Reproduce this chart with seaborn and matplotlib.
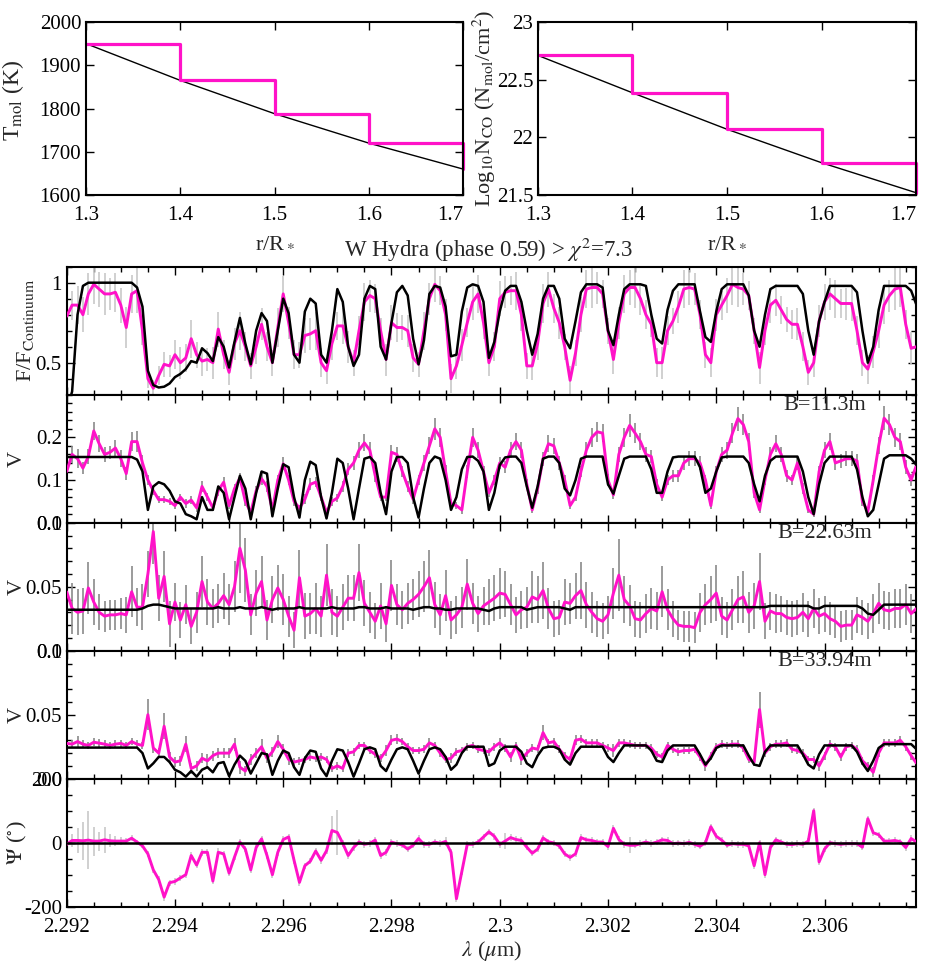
import numpy as np
import pandas as pd
import matplotlib
matplotlib.use('Agg')
import matplotlib.pyplot as plt
import seaborn as sns
from matplotlib.ticker import MultipleLocator

sns.set_style('ticks')
plt.rcParams['font.family'] = ['Liberation Serif', 'DejaVu Serif']
plt.rcParams['mathtext.fontset'] = 'stix'

# ---------------- top panels ----------------
radius = [1.3, 1.4, 1.5, 1.6, 1.7]
temp_model = [1950, 1865, 1788, 1720, 1660]
temp_shells = [1950, 1865, 1788, 1720]
ncol_model = [22.71, 22.386, 22.07, 21.78, 21.52]
ncol_shells = [22.71, 22.386, 22.07, 21.78]

# ---------------- spectra ----------------
lam = [2.2920, 2.2921, 2.2922, 2.2923, 2.2924, 2.2925, 2.2926, 2.2927, 2.2928, 2.2929,
       2.2930, 2.2931, 2.2932, 2.2933, 2.2934, 2.2935, 2.2936, 2.2937, 2.2938, 2.2939,
       2.2940, 2.2941, 2.2942, 2.2943, 2.2944, 2.2945, 2.2946, 2.2947, 2.2948, 2.2949,
       2.2950, 2.2951, 2.2952, 2.2953, 2.2954, 2.2955, 2.2956, 2.2957, 2.2958, 2.2959,
       2.2960, 2.2961, 2.2962, 2.2963, 2.2964, 2.2965, 2.2966, 2.2967, 2.2968, 2.2969,
       2.2970, 2.2971, 2.2972, 2.2973, 2.2974, 2.2975, 2.2976, 2.2977, 2.2978, 2.2979,
       2.2980, 2.2981, 2.2982, 2.2983, 2.2984, 2.2985, 2.2986, 2.2987, 2.2988, 2.2989,
       2.2990, 2.2991, 2.2992, 2.2993, 2.2994, 2.2995, 2.2996, 2.2997, 2.2998, 2.2999,
       2.3000, 2.3001, 2.3002, 2.3003, 2.3004, 2.3005, 2.3006, 2.3007, 2.3008, 2.3009,
       2.3010, 2.3011, 2.3012, 2.3013, 2.3014, 2.3015, 2.3016, 2.3017, 2.3018, 2.3019,
       2.3020, 2.3021, 2.3022, 2.3023, 2.3024, 2.3025, 2.3026, 2.3027, 2.3028, 2.3029,
       2.3030, 2.3031, 2.3032, 2.3033, 2.3034, 2.3035, 2.3036, 2.3037, 2.3038, 2.3039,
       2.3040, 2.3041, 2.3042, 2.3043, 2.3044, 2.3045, 2.3046, 2.3047, 2.3048, 2.3049,
       2.3050, 2.3051, 2.3052, 2.3053, 2.3054, 2.3055, 2.3056, 2.3057, 2.3058, 2.3059,
       2.3060, 2.3061, 2.3062, 2.3063, 2.3064, 2.3065, 2.3066, 2.3067, 2.3068, 2.3069,
       2.3070, 2.3071, 2.3072, 2.3073, 2.3074, 2.3075, 2.3076, 2.3077]

flux_obs = [0.79, 0.86, 0.86, 0.80, 0.93, 0.99, 0.96, 0.93, 0.93, 0.94,
            0.86, 0.72, 0.93, 0.95, 0.70, 0.40, 0.34, 0.42, 0.49, 0.48,
            0.55, 0.50, 0.53, 0.65, 0.55, 0.51, 0.52, 0.50, 0.71, 0.55,
            0.44, 0.62, 0.70, 0.60, 0.48, 0.60, 0.74, 0.60, 0.50, 0.72,
            0.93, 0.75, 0.55, 0.55, 0.67, 0.68, 0.70, 0.50, 0.45, 0.62,
            0.73, 0.73, 0.60, 0.50, 0.70, 0.88, 0.92, 0.90, 0.70, 0.52,
            0.75, 0.72, 0.72, 0.70, 0.53, 0.49, 0.70, 0.90, 0.99, 0.95,
            0.80, 0.40, 0.48, 0.61, 0.75, 0.88, 0.93, 0.75, 0.50, 0.60,
            0.90, 0.94, 0.95, 0.95, 0.80, 0.48, 0.48, 0.62, 0.87, 0.96,
            0.84, 0.75, 0.60, 0.39, 0.56, 0.80, 0.96, 0.97, 0.97, 0.93,
            0.70, 0.52, 0.75, 0.93, 0.97, 0.97, 0.90, 0.80, 0.74, 0.50,
            0.50, 0.70, 0.76, 0.85, 0.96, 0.97, 0.96, 0.80, 0.55, 0.50,
            0.80, 0.86, 0.92, 0.99, 0.97, 0.96, 0.92, 0.70, 0.47, 0.70,
            0.86, 0.89, 0.83, 0.77, 0.74, 0.74, 0.60, 0.44, 0.50, 0.76,
            0.88, 0.93, 0.90, 0.87, 0.87, 0.87, 0.70, 0.50, 0.46, 0.57,
            0.70, 0.86, 0.92, 0.96, 0.97, 0.74, 0.59, 0.60]
flux_mod = [0.20, 0.32, 0.80, 0.98, 1.00, 1.00, 1.00, 1.00, 1.00, 1.00,
            1.00, 1.00, 1.00, 0.97, 0.85, 0.45, 0.36, 0.345, 0.35, 0.37,
            0.41, 0.43, 0.46, 0.51, 0.50, 0.59, 0.56, 0.51, 0.66, 0.60,
            0.47, 0.63, 0.78, 0.62, 0.49, 0.70, 0.81, 0.76, 0.50, 0.70,
            0.90, 0.81, 0.55, 0.50, 0.82, 0.90, 0.87, 0.55, 0.50, 0.70,
            0.96, 0.88, 0.60, 0.48, 0.55, 0.90, 0.98, 0.96, 0.60, 0.52,
            0.75, 0.94, 0.98, 0.92, 0.65, 0.49, 0.64, 0.93, 0.98, 0.97,
            0.85, 0.54, 0.55, 0.82, 0.97, 0.99, 0.98, 0.88, 0.53, 0.63,
            0.82, 0.95, 0.98, 0.98, 0.88, 0.70, 0.55, 0.68, 0.90, 0.98,
            0.98, 0.90, 0.65, 0.59, 0.76, 0.94, 0.99, 0.99, 0.99, 0.97,
            0.70, 0.61, 0.80, 0.96, 0.99, 0.99, 0.99, 0.98, 0.80, 0.65,
            0.62, 0.83, 0.95, 0.99, 0.99, 0.99, 0.99, 0.82, 0.66, 0.63,
            0.82, 0.96, 0.99, 0.99, 0.99, 0.99, 0.92, 0.70, 0.60, 0.80,
            0.96, 0.98, 0.98, 0.98, 0.98, 0.98, 0.93, 0.70, 0.55, 0.76,
            0.88, 0.98, 0.98, 0.98, 0.98, 0.98, 0.94, 0.70, 0.50, 0.60,
            0.83, 0.98, 0.98, 0.98, 0.98, 0.98, 0.95, 0.86]
flux_err = [0.10, 0.09, 0.12, 0.11, 0.13, 0.12, 0.11, 0.13, 0.10, 0.12,
            0.11, 0.13, 0.12, 0.14, 0.09, 0.06, 0.05, 0.06, 0.08, 0.07,
            0.09, 0.10, 0.09, 0.12, 0.08, 0.09, 0.07, 0.10, 0.11, 0.09,
            0.08, 0.10, 0.12, 0.09, 0.08, 0.11, 0.10, 0.09, 0.08, 0.12,
            0.11, 0.10, 0.09, 0.08, 0.11, 0.10, 0.12, 0.09, 0.08, 0.10,
            0.09, 0.11, 0.10, 0.08, 0.09, 0.12, 0.10, 0.09, 0.08, 0.10,
            0.11, 0.09, 0.08, 0.10, 0.09, 0.08, 0.12, 0.10, 0.11, 0.09,
            0.10, 0.09, 0.08, 0.10, 0.09, 0.11, 0.12, 0.10, 0.08, 0.09,
            0.11, 0.10, 0.09, 0.12, 0.10, 0.08, 0.09, 0.10, 0.12, 0.11,
            0.09, 0.10, 0.08, 0.09, 0.08, 0.11, 0.12, 0.13, 0.10, 0.09,
            0.08, 0.09, 0.10, 0.12, 0.11, 0.13, 0.10, 0.09, 0.08, 0.09,
            0.10, 0.09, 0.08, 0.10, 0.12, 0.11, 0.10, 0.09, 0.08, 0.09,
            0.10, 0.09, 0.11, 0.13, 0.12, 0.10, 0.09, 0.08, 0.10, 0.09,
            0.11, 0.10, 0.09, 0.08, 0.09, 0.10, 0.09, 0.08, 0.09, 0.10,
            0.11, 0.10, 0.12, 0.09, 0.10, 0.11, 0.09, 0.08, 0.09, 0.10,
            0.11, 0.12, 0.10, 0.13, 0.12, 0.09, 0.10, 0.09]

vis1_obs = [0.120, 0.160, 0.150, 0.128, 0.155, 0.215, 0.185, 0.160, 0.165, 0.175,
            0.150, 0.115, 0.190, 0.190, 0.140, 0.100, 0.075, 0.054, 0.054, 0.050,
            0.040, 0.060, 0.045, 0.053, 0.035, 0.085, 0.060, 0.035, 0.075, 0.095,
            0.040, 0.080, 0.105, 0.050, 0.024, 0.075, 0.103, 0.085, 0.030, 0.100,
            0.138, 0.100, 0.050, 0.034, 0.055, 0.090, 0.095, 0.060, 0.024, 0.050,
            0.058, 0.085, 0.125, 0.140, 0.170, 0.187, 0.170, 0.110, 0.060, 0.060,
            0.165, 0.160, 0.120, 0.085, 0.055, 0.100, 0.140, 0.180, 0.220, 0.200,
            0.120, 0.045, 0.040, 0.030, 0.120, 0.200, 0.170, 0.120, 0.070, 0.100,
            0.140, 0.130, 0.170, 0.190, 0.170, 0.090, 0.030, 0.080, 0.150, 0.185,
            0.180, 0.140, 0.100, 0.040, 0.060, 0.120, 0.170, 0.200, 0.213, 0.210,
            0.100, 0.065, 0.160, 0.200, 0.228, 0.210, 0.190, 0.160, 0.155, 0.090,
            0.060, 0.100, 0.110, 0.110, 0.140, 0.150, 0.150, 0.140, 0.100, 0.040,
            0.120, 0.160, 0.170, 0.210, 0.244, 0.230, 0.190, 0.070, 0.030, 0.100,
            0.160, 0.185, 0.160, 0.110, 0.100, 0.140, 0.080, 0.030, 0.020, 0.120,
            0.170, 0.190, 0.140, 0.145, 0.150, 0.150, 0.145, 0.050, 0.026, 0.100,
            0.180, 0.245, 0.230, 0.200, 0.190, 0.130, 0.100, 0.135]
vis1_mod = [0.154, 0.154, 0.154, 0.154, 0.154, 0.154, 0.154, 0.154, 0.154, 0.154,
            0.154, 0.154, 0.154, 0.148, 0.120, 0.030, 0.085, 0.095, 0.090, 0.075,
            0.050, 0.045, 0.020, 0.015, 0.008, 0.060, 0.030, 0.030, 0.085, 0.070,
            0.008, 0.060, 0.110, 0.080, 0.008, 0.070, 0.120, 0.115, 0.015, 0.080,
            0.137, 0.130, 0.060, 0.012, 0.100, 0.143, 0.135, 0.060, 0.010, 0.070,
            0.150, 0.140, 0.080, 0.008, 0.080, 0.150, 0.154, 0.140, 0.070, 0.020,
            0.120, 0.154, 0.154, 0.140, 0.060, 0.012, 0.080, 0.140, 0.155, 0.150,
            0.100, 0.030, 0.060, 0.125, 0.154, 0.155, 0.145, 0.120, 0.030, 0.070,
            0.135, 0.153, 0.155, 0.155, 0.140, 0.085, 0.035, 0.085, 0.150, 0.155,
            0.155, 0.140, 0.080, 0.064, 0.100, 0.150, 0.155, 0.155, 0.155, 0.155,
            0.090, 0.068, 0.110, 0.150, 0.155, 0.155, 0.155, 0.155, 0.125, 0.070,
            0.070, 0.120, 0.153, 0.155, 0.155, 0.155, 0.155, 0.130, 0.070, 0.080,
            0.120, 0.153, 0.155, 0.155, 0.155, 0.155, 0.140, 0.090, 0.050, 0.110,
            0.145, 0.155, 0.155, 0.155, 0.155, 0.155, 0.120, 0.060, 0.020, 0.090,
            0.140, 0.155, 0.155, 0.155, 0.155, 0.155, 0.125, 0.060, 0.015, 0.030,
            0.090, 0.150, 0.158, 0.158, 0.158, 0.158, 0.150, 0.135]
vis1_err = [0.015, 0.020, 0.022, 0.015, 0.018, 0.022, 0.020, 0.018, 0.015, 0.018,
            0.020, 0.016, 0.022, 0.025, 0.018, 0.012, 0.010, 0.008, 0.008, 0.008,
            0.009, 0.008, 0.010, 0.009, 0.010, 0.012, 0.010, 0.008, 0.012, 0.012,
            0.008, 0.010, 0.012, 0.010, 0.008, 0.010, 0.014, 0.012, 0.008, 0.012,
            0.015, 0.012, 0.010, 0.008, 0.012, 0.014, 0.012, 0.010, 0.008, 0.010,
            0.010, 0.012, 0.014, 0.016, 0.018, 0.020, 0.018, 0.014, 0.010, 0.010,
            0.016, 0.018, 0.014, 0.012, 0.010, 0.012, 0.018, 0.020, 0.025, 0.022,
            0.016, 0.010, 0.008, 0.010, 0.015, 0.022, 0.018, 0.014, 0.010, 0.012,
            0.015, 0.014, 0.018, 0.020, 0.018, 0.012, 0.008, 0.012, 0.016, 0.020,
            0.018, 0.016, 0.012, 0.008, 0.010, 0.014, 0.018, 0.022, 0.024, 0.022,
            0.014, 0.010, 0.018, 0.022, 0.026, 0.024, 0.020, 0.018, 0.016, 0.012,
            0.010, 0.012, 0.014, 0.014, 0.016, 0.018, 0.018, 0.016, 0.012, 0.008,
            0.014, 0.018, 0.020, 0.024, 0.028, 0.025, 0.020, 0.012, 0.008, 0.012,
            0.018, 0.020, 0.018, 0.014, 0.012, 0.016, 0.012, 0.008, 0.006, 0.014,
            0.018, 0.020, 0.016, 0.016, 0.018, 0.018, 0.016, 0.010, 0.006, 0.012,
            0.020, 0.028, 0.025, 0.022, 0.020, 0.016, 0.014, 0.015]

vis2_obs = [0.046, 0.033, 0.030, 0.031, 0.049, 0.038, 0.030, 0.027, 0.028, 0.028,
            0.029, 0.028, 0.046, 0.034, 0.034, 0.060, 0.093, 0.041, 0.058, 0.021,
            0.038, 0.024, 0.036, 0.019, 0.030, 0.054, 0.038, 0.033, 0.037, 0.043,
            0.036, 0.050, 0.080, 0.063, 0.028, 0.045, 0.054, 0.024, 0.040, 0.049,
            0.040, 0.027, 0.016, 0.057, 0.027, 0.029, 0.033, 0.027, 0.059, 0.030,
            0.027, 0.034, 0.041, 0.041, 0.061, 0.037, 0.030, 0.023, 0.035, 0.021,
            0.051, 0.036, 0.032, 0.037, 0.040, 0.044, 0.050, 0.057, 0.036, 0.028,
            0.043, 0.024, 0.028, 0.034, 0.052, 0.037, 0.029, 0.035, 0.038, 0.041,
            0.045, 0.044, 0.036, 0.028, 0.032, 0.034, 0.042, 0.040, 0.047, 0.033,
            0.025, 0.026, 0.038, 0.037, 0.043, 0.047, 0.036, 0.030, 0.025, 0.023,
            0.028, 0.045, 0.059, 0.040, 0.035, 0.025, 0.024, 0.029, 0.033, 0.031,
            0.046, 0.032, 0.025, 0.020, 0.019, 0.019, 0.018, 0.030, 0.036, 0.040,
            0.045, 0.027, 0.024, 0.032, 0.040, 0.042, 0.030, 0.035, 0.054, 0.023,
            0.031, 0.029, 0.029, 0.026, 0.025, 0.026, 0.030, 0.025, 0.033, 0.027,
            0.029, 0.025, 0.023, 0.019, 0.020, 0.020, 0.028, 0.026, 0.023, 0.029,
            0.037, 0.032, 0.031, 0.033, 0.033, 0.036, 0.029, 0.033]
vis2_mod = [0.032, 0.032, 0.032, 0.032, 0.032, 0.032, 0.032, 0.032, 0.032, 0.032,
            0.032, 0.032, 0.032, 0.032, 0.033, 0.035, 0.036, 0.036, 0.035, 0.034,
            0.033, 0.033, 0.033, 0.033, 0.033, 0.033, 0.033, 0.033, 0.034, 0.033,
            0.033, 0.033, 0.034, 0.033, 0.033, 0.033, 0.034, 0.033, 0.032, 0.033,
            0.033, 0.033, 0.033, 0.034, 0.033, 0.033, 0.033, 0.033, 0.033, 0.034,
            0.033, 0.033, 0.033, 0.033, 0.034, 0.034, 0.033, 0.033, 0.033, 0.034,
            0.033, 0.033, 0.033, 0.033, 0.032, 0.033, 0.034, 0.034, 0.033, 0.033,
            0.032, 0.032, 0.033, 0.033, 0.033, 0.033, 0.033, 0.032, 0.031, 0.033,
            0.034, 0.034, 0.034, 0.034, 0.034, 0.032, 0.033, 0.034, 0.034, 0.034,
            0.034, 0.034, 0.033, 0.032, 0.034, 0.034, 0.034, 0.034, 0.034, 0.034,
            0.034, 0.034, 0.034, 0.034, 0.034, 0.034, 0.034, 0.034, 0.034, 0.034,
            0.034, 0.034, 0.034, 0.034, 0.034, 0.034, 0.034, 0.034, 0.034, 0.034,
            0.034, 0.034, 0.034, 0.034, 0.034, 0.034, 0.034, 0.034, 0.034, 0.034,
            0.035, 0.035, 0.035, 0.035, 0.035, 0.035, 0.035, 0.035, 0.033, 0.033,
            0.035, 0.035, 0.035, 0.035, 0.035, 0.035, 0.035, 0.033, 0.029, 0.028,
            0.032, 0.036, 0.036, 0.036, 0.036, 0.036, 0.036, 0.036]
vis2_err = [0.015, 0.020, 0.018, 0.018, 0.020, 0.018, 0.014, 0.012, 0.012, 0.012,
            0.012, 0.014, 0.020, 0.015, 0.018, 0.018, 0.025, 0.018, 0.020, 0.018,
            0.015, 0.014, 0.015, 0.014, 0.016, 0.020, 0.018, 0.015, 0.015, 0.018,
            0.016, 0.020, 0.035, 0.025, 0.016, 0.018, 0.020, 0.016, 0.018, 0.018,
            0.020, 0.016, 0.014, 0.022, 0.018, 0.016, 0.020, 0.016, 0.024, 0.018,
            0.016, 0.018, 0.018, 0.018, 0.022, 0.018, 0.016, 0.014, 0.018, 0.014,
            0.020, 0.016, 0.015, 0.016, 0.016, 0.018, 0.020, 0.022, 0.018, 0.016,
            0.020, 0.015, 0.015, 0.016, 0.020, 0.016, 0.014, 0.015, 0.018, 0.018,
            0.020, 0.018, 0.016, 0.014, 0.015, 0.016, 0.020, 0.018, 0.022, 0.016,
            0.014, 0.014, 0.018, 0.016, 0.018, 0.022, 0.018, 0.016, 0.014, 0.014,
            0.015, 0.020, 0.028, 0.018, 0.016, 0.014, 0.014, 0.015, 0.016, 0.015,
            0.020, 0.016, 0.014, 0.012, 0.012, 0.012, 0.012, 0.015, 0.016, 0.018,
            0.022, 0.015, 0.014, 0.016, 0.018, 0.020, 0.016, 0.018, 0.022, 0.014,
            0.015, 0.015, 0.014, 0.014, 0.014, 0.014, 0.015, 0.014, 0.015, 0.014,
            0.014, 0.013, 0.013, 0.012, 0.012, 0.012, 0.014, 0.014, 0.014, 0.015,
            0.016, 0.015, 0.015, 0.015, 0.015, 0.016, 0.015, 0.015]

vis3_obs = [0.0276, 0.0270, 0.0290, 0.0270, 0.0260, 0.0285, 0.0278, 0.0270, 0.0260, 0.0270,
            0.0276, 0.0260, 0.0290, 0.0270, 0.0260, 0.0500, 0.0240, 0.0200, 0.0410, 0.0170,
            0.0130, 0.0140, 0.0270, 0.0080, 0.0100, 0.0160, 0.0140, 0.0180, 0.0200, 0.0200,
            0.0200, 0.0270, 0.0090, 0.0060, 0.0150, 0.0200, 0.0250, 0.0160, 0.0210, 0.0290,
            0.0230, 0.0150, 0.0130, 0.0140, 0.0150, 0.0170, 0.0160, 0.0170, 0.0150, 0.0080,
            0.0100, 0.0080, 0.0200, 0.0210, 0.0260, 0.0260, 0.0220, 0.0190, 0.0160, 0.0220,
            0.0300, 0.0310, 0.0290, 0.0250, 0.0220, 0.0220, 0.0230, 0.0280, 0.0260, 0.0200,
            0.0150, 0.0160, 0.0210, 0.0220, 0.0250, 0.0260, 0.0230, 0.0220, 0.0210, 0.0250,
            0.0280, 0.0240, 0.0170, 0.0260, 0.0150, 0.0200, 0.0240, 0.0230, 0.0360, 0.0280,
            0.0290, 0.0230, 0.0180, 0.0150, 0.0300, 0.0310, 0.0280, 0.0280, 0.0280, 0.0260,
            0.0240, 0.0220, 0.0280, 0.0280, 0.0270, 0.0260, 0.0260, 0.0260, 0.0240, 0.0190,
            0.0170, 0.0260, 0.0230, 0.0210, 0.0220, 0.0220, 0.0230, 0.0170, 0.0100, 0.0180,
            0.0250, 0.0270, 0.0260, 0.0270, 0.0270, 0.0240, 0.0150, 0.0130, 0.0540, 0.0200,
            0.0250, 0.0270, 0.0270, 0.0280, 0.0230, 0.0220, 0.0200, 0.0150, 0.0150, 0.0100,
            0.0180, 0.0270, 0.0250, 0.0170, 0.0250, 0.0260, 0.0230, 0.0140, 0.0100, 0.0050,
            0.0200, 0.0280, 0.0280, 0.0280, 0.0300, 0.0250, 0.0180, 0.0120]
vis3_mod = [0.0243, 0.0243, 0.0243, 0.0243, 0.0243, 0.0243, 0.0243, 0.0243, 0.0243, 0.0243,
            0.0243, 0.0243, 0.0243, 0.0243, 0.0200, 0.0080, 0.0120, 0.0170, 0.0170, 0.0130,
            0.0070, 0.0050, 0.0016, 0.0060, 0.0016, 0.0070, 0.0090, 0.0050, 0.0120, 0.0130,
            0.0020, 0.0110, 0.0180, 0.0140, 0.0040, 0.0120, 0.0200, 0.0190, 0.0030, 0.0140,
            0.0220, 0.0200, 0.0090, 0.0030, 0.0160, 0.0220, 0.0210, 0.0080, 0.0020, 0.0140,
            0.0230, 0.0220, 0.0130, 0.0016, 0.0120, 0.0230, 0.0245, 0.0230, 0.0100, 0.0060,
            0.0150, 0.0230, 0.0245, 0.0230, 0.0140, 0.0040, 0.0140, 0.0230, 0.0245, 0.0230,
            0.0170, 0.0070, 0.0110, 0.0200, 0.0250, 0.0250, 0.0250, 0.0250, 0.0100, 0.0120,
            0.0220, 0.0250, 0.0250, 0.0250, 0.0210, 0.0120, 0.0090, 0.0180, 0.0240, 0.0250,
            0.0250, 0.0230, 0.0150, 0.0110, 0.0200, 0.0250, 0.0250, 0.0250, 0.0250, 0.0250,
            0.0170, 0.0130, 0.0200, 0.0260, 0.0260, 0.0260, 0.0260, 0.0260, 0.0220, 0.0140,
            0.0130, 0.0220, 0.0260, 0.0260, 0.0260, 0.0260, 0.0260, 0.0190, 0.0110, 0.0160,
            0.0240, 0.0260, 0.0260, 0.0260, 0.0260, 0.0260, 0.0180, 0.0110, 0.0100, 0.0210,
            0.0260, 0.0260, 0.0260, 0.0260, 0.0260, 0.0260, 0.0190, 0.0110, 0.0080, 0.0190,
            0.0260, 0.0260, 0.0260, 0.0260, 0.0260, 0.0260, 0.0210, 0.0120, 0.0060, 0.0140,
            0.0240, 0.0270, 0.0270, 0.0270, 0.0270, 0.0270, 0.0270, 0.0230]
vis3_err = [0.003, 0.003, 0.004, 0.003, 0.003, 0.003, 0.003, 0.003, 0.003, 0.003,
            0.003, 0.003, 0.003, 0.003, 0.003, 0.012, 0.004, 0.004, 0.010, 0.004,
            0.004, 0.004, 0.006, 0.004, 0.004, 0.004, 0.005, 0.004, 0.004, 0.004,
            0.004, 0.005, 0.005, 0.004, 0.004, 0.004, 0.006, 0.004, 0.004, 0.005,
            0.004, 0.004, 0.003, 0.003, 0.003, 0.003, 0.003, 0.003, 0.003, 0.003,
            0.003, 0.003, 0.003, 0.003, 0.003, 0.003, 0.003, 0.003, 0.003, 0.004,
            0.004, 0.004, 0.003, 0.003, 0.003, 0.003, 0.003, 0.004, 0.003, 0.003,
            0.003, 0.004, 0.003, 0.003, 0.003, 0.003, 0.003, 0.003, 0.003, 0.003,
            0.004, 0.003, 0.004, 0.003, 0.004, 0.003, 0.003, 0.003, 0.006, 0.003,
            0.003, 0.003, 0.003, 0.003, 0.004, 0.003, 0.003, 0.003, 0.003, 0.003,
            0.003, 0.005, 0.003, 0.003, 0.003, 0.003, 0.003, 0.003, 0.003, 0.003,
            0.003, 0.003, 0.003, 0.003, 0.003, 0.003, 0.003, 0.003, 0.004, 0.003,
            0.003, 0.003, 0.003, 0.003, 0.003, 0.003, 0.003, 0.003, 0.014, 0.003,
            0.003, 0.003, 0.003, 0.003, 0.003, 0.003, 0.003, 0.003, 0.003, 0.004,
            0.003, 0.003, 0.003, 0.003, 0.003, 0.003, 0.003, 0.003, 0.003, 0.004,
            0.003, 0.003, 0.003, 0.003, 0.003, 0.003, 0.003, 0.003]

psi_obs = [-5, 7, 7, 6, 8, 5, 5, 9, 6, 5,
           5, 5, 14, 2, -10, -35, -85, -115, -170, -125,
           -121, -110, -100, -40, -70, -30, -30, -120, -30, -35,
           -95, -45, 2, -20, -85, -15, 12, -40, -100, -30,
           10, 18, -55, -124, -72, -58, -26, -55, -25, 38,
           32, -2, -40, -15, 2, -5, -2, 8, -40, -30,
           2, -3, -7, -20, -8, 13, -5, -5, 2, -2,
           4, -30, -175, -90, -5, -5, 2, 18, 34, 20,
           -5, 5, 16, 10, 7, -14, -33, -20, 15, 3,
           -1, -10, -35, -46, -35, 16, 9, 7, 2, 2,
           -12, 45, 10, -5, -8, -8, -3, 2, -3, 2,
           9, 7, -3, -1, -3, 1, -5, -11, 0, 50,
           20, 8, -8, -3, -5, -5, -10, -72, 0, -100,
           -15, 9, 2, -5, -6, -3, -5, 5, 100, -60,
           -20, 0, -3, -5, -3, -3, -3, -14, 75, 31,
           25, 5, 5, 7, 3, -15, 13, 2]
psi_mod = [0.0] * len(lam)
psi_err = [10, 20, 40, 60, 90, 45, 30, 40, 20, 15,
           12, 10, 10, 8, 8, 10, 10, 10, 12, 10,
           10, 10, 10, 10, 10, 10, 10, 10, 12, 10,
           10, 10, 10, 10, 10, 10, 10, 10, 10, 10,
           10, 10, 10, 12, 10, 10, 10, 10, 10, 45,
           70, 10, 10, 10, 10, 10, 10, 10, 10, 10,
           10, 10, 10, 10, 10, 10, 10, 10, 10, 12,
           15, 10, 10, 10, 10, 10, 10, 10, 10, 10,
           10, 25, 10, 10, 10, 10, 10, 10, 10, 10,
           10, 10, 10, 10, 10, 10, 10, 10, 10, 10,
           10, 10, 10, 10, 25, 10, 10, 10, 10, 10,
           10, 10, 10, 10, 10, 10, 10, 10, 10, 10,
           10, 10, 10, 10, 10, 10, 10, 10, 10, 10,
           10, 10, 10, 10, 10, 10, 10, 10, 10, 10,
           10, 10, 10, 10, 10, 10, 10, 10, 10, 10,
           10, 10, 10, 10, 10, 10, 10, 10]

baselines = ['B=11.3m', 'B=22.63m', 'B=33.94m']
xtick_vals = [2.292, 2.294, 2.296, 2.298, 2.300, 2.302, 2.304, 2.306]
xtick_text = ['2.292', '2.294', '2.296', '2.298', '2.3', '2.302', '2.304', '2.306']
rtick_text = ['1.3', '1.4', '1.5', '1.6', '1.7']

PINK = '#ff12c8'
FS = 15        # tick labels
FL = 16        # axis labels / annotations

W, H = 925.0, 964.0
fig = plt.figure(figsize=(9.25, 9.64), dpi=100)


def box(x0, y0, x1, y1):
    return [x0 / W, 1 - y1 / H, (x1 - x0) / W, (y1 - y0) / H]


def style(ax):
    for s in ax.spines.values():
        s.set_linewidth(1.5)
        s.set_color('black')
    ax.tick_params(which='both', direction='in', top=True, right=True,
                   width=1.0, colors='black', labelsize=FS)
    ax.tick_params(which='major', length=6)
    ax.tick_params(which='minor', length=3.5)


def shell_steps(r, s, m):
    xs, ys = [], []
    for i in range(len(s)):
        xs += [r[i], r[i + 1]]
        ys += [s[i], s[i]]
    xs.append(r[-1]); ys.append(m[-1])
    return xs, ys


def radius_axis(ax):
    ax.set_xlim(1.3, 1.7)
    ax.set_xticks(radius)
    labs = ax.set_xticklabels(rtick_text)
    labs[-1].set_horizontalalignment('right')
    labs[-1].set_x(1.703)


# ---- top-left: temperature ----
ax_t = fig.add_axes(box(86, 22, 463, 195))
xs, ys = shell_steps(radius, temp_shells, temp_model)
sns.lineplot(x=radius, y=temp_model, ax=ax_t, color='black', lw=1.0, sort=False, estimator=None)
sns.lineplot(x=xs, y=ys, ax=ax_t, color=PINK, lw=2.3, sort=False, estimator=None, clip_on=False)
radius_axis(ax_t)
ax_t.set_ylim(1600, 2000)
ax_t.set_yticks([1600, 1700, 1800, 1900, 2000])
style(ax_t)
ax_t.tick_params(axis='x', pad=8)
ax_t.set_xlabel(r'r/R$_*$', fontsize=FL)
ax_t.xaxis.set_label_coords(0.5, -0.22)
ax_t.set_ylabel(r'T$_{\rm mol}$ (K)', fontsize=FL + 1)
ax_t.yaxis.set_label_coords(-0.16, 0.55)

# ---- top-right: column density ----
ax_n = fig.add_axes(box(538, 22, 916, 195))
xs, ys = shell_steps(radius, ncol_shells, ncol_model)
sns.lineplot(x=radius, y=ncol_model, ax=ax_n, color='black', lw=1.0, sort=False, estimator=None)
sns.lineplot(x=xs, y=ys, ax=ax_n, color=PINK, lw=2.3, sort=False, estimator=None, clip_on=False)
radius_axis(ax_n)
ax_n.set_ylim(21.5, 23)
ax_n.set_yticks([21.5, 22, 22.5, 23])
ax_n.set_yticklabels(['21.5', '22', '22.5', '23'])
style(ax_n)
ax_n.tick_params(axis='x', pad=8)
ax_n.set_xlabel(r'r/R$_*$', fontsize=FL)
ax_n.xaxis.set_label_coords(0.5, -0.22)
ax_n.set_ylabel(r'Log$_{10}$N$_{\rm CO}$ (N$_{\rm mol}$/cm$^2$)', fontsize=FL)
ax_n.yaxis.set_label_coords(-0.105, 0.5)

fig.text(489 / W, 1 - 250 / H, r'W Hydra (phase 0.59) > $\chi^2$=7.3',
         ha='center', va='center', fontsize=FL + 0.5)

# ---- spectral panels ----
tops = [266.7, 394.7, 522.7, 650.7, 778.7, 906.7]
panels = [
    dict(obs=flux_obs, mod=flux_mod, err=flux_err, ylim=(0.3, 1.1),
         ticks=[0.5, 1.0], labels=['0.5', '1'], minor=0.1, ecol='#c8c8c8',
         ylabel=r'F/F$_{\rm Continuum}$', lx=-0.036, tag=None),
    dict(obs=vis1_obs, mod=vis1_mod, err=vis1_err, ylim=(0.0, 0.3),
         ticks=[0.0, 0.1, 0.2], labels=['0.0', '0.1', '0.2'], minor=0.02, ecol='#8a8a8a',
         ylabel='V', lx=-0.047, tag=baselines[0]),
    dict(obs=vis2_obs, mod=vis2_mod, err=vis2_err, ylim=(0.0, 0.1),
         ticks=[0.0, 0.05, 0.1], labels=['0.0', '0.05', '0.1'], minor=0.01, ecol='#8a8a8a',
         ylabel='V', lx=-0.047, tag=baselines[1]),
    dict(obs=vis3_obs, mod=vis3_mod, err=vis3_err, ylim=(0.0, 0.1),
         ticks=[0.0, 0.05, 0.1], labels=['0.0', '0.05', '0.1'], minor=0.01, ecol='#8a8a8a',
         ylabel='V', lx=-0.047, tag=baselines[2]),
    dict(obs=psi_obs, mod=psi_mod, err=psi_err, ylim=(-200, 200),
         ticks=[-200, 0, 200], labels=['-200', '0', '200'], minor=50, ecol='#c8c8c8',
         ylabel=r'$\Psi$ ($^{\circ}$)', lx=-0.044, tag=None),
]

lam_arr = np.array(lam)
for i, p in enumerate(panels):
    ax = fig.add_axes(box(66.7, tops[i], 916, tops[i + 1]))
    obs = np.array(p['obs'], dtype=float)
    err = np.array(p['err'], dtype=float)
    ax.vlines(lam_arr, obs - err, obs + err, color=p['ecol'], lw=1.2, zorder=1)
    df = pd.DataFrame({'lam': lam_arr, 'obs': obs, 'mod': np.array(p['mod'], dtype=float)})
    sns.lineplot(data=df, x='lam', y='obs', ax=ax, color=PINK, lw=2.1,
                 sort=False, estimator=None, zorder=3)
    sns.lineplot(data=df, x='lam', y='mod', ax=ax, color='black', lw=1.8,
                 sort=False, estimator=None, zorder=4)
    ax.set_xlim(2.292, 2.30769)
    ax.set_ylim(*p['ylim'])
    ax.set_yticks(p['ticks'])
    ax.set_yticklabels(p['labels'])
    ax.yaxis.set_minor_locator(MultipleLocator(p['minor']))
    ax.set_xticks(xtick_vals)
    ax.xaxis.set_minor_locator(MultipleLocator(0.0005))
    style(ax)
    ax.set_ylabel(p['ylabel'], fontsize=FL)
    ax.yaxis.set_label_coords(p['lx'], 0.5)
    if i < 4:
        ax.set_xticklabels([])
        ax.set_xlabel('')
    else:
        ax.set_xticklabels(xtick_text)
        ax.tick_params(axis='x', pad=8)
        ax.set_xlabel(r'$\lambda$ ($\mu$m)', fontsize=FL)
        ax.xaxis.set_label_coords(0.5, -0.25)
    if p['tag']:
        ax.text(0.893, 0.915, p['tag'], transform=ax.transAxes, ha='center',
                va='center', fontsize=FL)

fig.savefig('out.png', dpi=100)
